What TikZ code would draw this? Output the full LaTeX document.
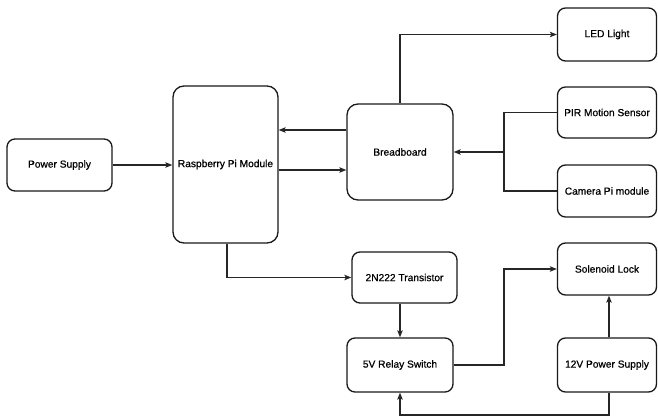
\documentclass[tikz,border=0pt]{standalone}
\usepackage{fontspec}
\setmainfont{Liberation Sans}
\newfontfamily\medfont[FakeBold=0.7]{Liberation Sans}
\usetikzlibrary{arrows.meta}
\begin{document}
\begin{tikzpicture}[x=1pt,y=-1pt,
  blk/.style={draw=black!90, line width=1.3pt, rounded corners=8pt, align=center,
    inner sep=0pt, font=\medfont\fontsize{10.2}{12}\selectfont},
  arr/.style={draw=black!85, line width=1.1pt, -{Stealth[length=7pt,width=5.5pt,inset=1.5pt]}},
  ln/.style={draw=black!85, line width=1.1pt}]
\useasboundingbox (0,0) rectangle (658,417);
% nodes
\node[blk, minimum width=105, minimum height=52] (ps) at (59.5,165) {Power Supply};
\node[blk, minimum width=105, minimum height=157, rounded corners=11pt] (rpi) at (225.5,164.5) {Raspberry Pi Module};
\node[blk, minimum width=106, minimum height=96, rounded corners=11pt] (bb) at (400,152) {Breadboard};
\node[blk, minimum width=99, minimum height=53] (led) at (607,34.5) {LED Light};
\node[blk, minimum width=99, minimum height=51] (pir) at (607,112.5) {PIR Motion Sensor};
\node[blk, minimum width=99, minimum height=52] (cam) at (607,191) {Camera Pi module};
\node[blk, minimum width=105, minimum height=51] (tr) at (404.5,277.5) {2N222 Transistor};
\node[blk, minimum width=106, minimum height=54] (rly) at (400,365) {5V Relay Switch};
\node[blk, minimum width=99, minimum height=52] (sol) at (607,269) {Solenoid Lock};
\node[blk, minimum width=99, minimum height=54] (p12) at (607,365) {12V Power Supply};
% helper coordinates
\coordinate (y130) at (0,130);
\coordinate (y170) at (0,170);
\coordinate (j1) at (504,152);
\coordinate (c504) at (504,0);
\coordinate (bot) at (500,415);
% connectors
\draw[arr] (ps.east) -- (ps.east -| rpi.west);
\draw[arr] (bb.west |- y130) -- (rpi.east |- y130);
\draw[arr] (rpi.east |- y170) -- (bb.west |- y170);
\draw[arr] (bb.north) |- (led.west);
\draw[ln] (pir.west) -| (j1);
\draw[ln] (cam.west) -| (j1);
\draw[arr] (j1) -- (bb.east);
\draw[arr] ([xshift=1.5]rpi.south) |- (tr.west);
\draw[arr] (rly.north |- tr.south) -- (rly.north);
\draw[arr] (rly.east) -| (c504 |- sol.west) -- (sol.west);
\draw[arr] ([xshift=2]p12.north) -- ([xshift=2]sol.south);
\draw[arr] ([xshift=2]p12.south) |- (bot) -| (rly.south);
\end{tikzpicture}
\end{document}
